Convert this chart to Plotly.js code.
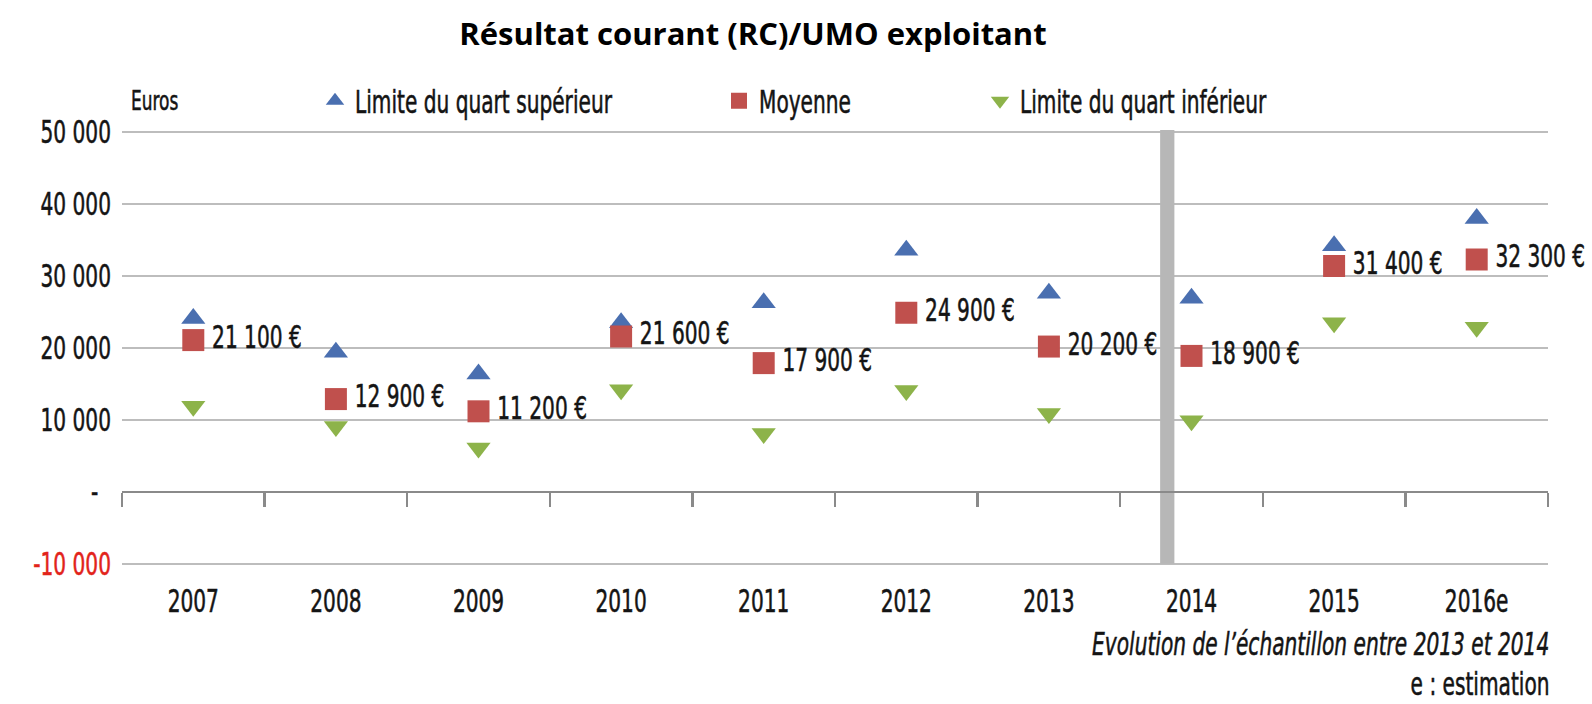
<!DOCTYPE html>
<html>
<head>
<meta charset="utf-8">
<script src="https://cdn.plot.ly/plotly-3.0.1.min.js"></script>
<style>
  html, body { margin: 0; padding: 0; background: #ffffff; }
  #chart { width: 1592px; height: 704px; }
</style>
</head>
<body>
<div id="chart"></div>
<script>
// ---- data ----
const years = ['2007', '2008', '2009', '2010', '2011', '2012', '2013', '2014', '2015', '2016e'];
const upperQuartile = [24100, 19400, 16400, 23500, 26300, 33600, 27600, 26900, 34200, 38000];
const average = [21100, 12900, 11200, 21600, 17900, 24900, 20200, 18900, 31400, 32300];
const lowerQuartile = [11900, 9100, 6100, 14200, 8100, 14100, 10900, 9900, 23500, 22900];
const yTickValues = [-10000, 0, 10000, 20000, 30000, 40000, 50000];
const yTickLabels = ['<span style="color:#e2231a">-10 000</span>', '-\u00a0\u00a0', '10 000', '20 000', '30 000', '40 000', '50 000'];
const seriesNames = ['Limite du quart supérieur', 'Moyenne', 'Limite du quart inférieur'];

const FONT = '"DejaVu Sans Condensed", "Liberation Sans Narrow", sans-serif';
const FS = 32;          // font size before horizontal condensing
const CONDENSE = 0.70;  // horizontal squeeze to mimic the condensed typeface
const STROKE = 0.55;    // slight outline to give a medium weight
const C_UP = '#4a6fb0', C_AVG = '#c0504d', C_LOW = '#8db34a';
const TXT = '#141414';
const yRange = [-10300, 50300];
const zeroPos = (0 - yRange[0]) / (yRange[1] - yRange[0]);

// plot area in pixels (for paper-referenced annotations)
const M = { l: 122, r: 44, t: 130, b: 138 };
const plotW = 1592 - M.l - M.r, plotH = 704 - M.t - M.b;
const px2paperX = px => (px - M.l) / plotW;
const px2paperY = py => (704 - M.b - py) / plotH;

const baseFont = { family: FONT, size: FS, color: TXT };

const traces = [
  {
    type: 'scatter', mode: 'markers', name: seriesNames[0], legend: 'legend',
    x: years, y: upperQuartile, xaxis: 'x', yaxis: 'y',
    marker: { symbol: 'triangle-up', size: 21, color: C_UP },
    hoverinfo: 'x+y'
  },
  {
    type: 'scatter', mode: 'markers+text', name: seriesNames[1], legend: 'legend2',
    x: years, y: average, xaxis: 'x', yaxis: 'y', cliponaxis: false,
    marker: { symbol: 'square', size: 22, color: C_AVG },
    texttemplate: '\u2009%{y:,.0f} €', textposition: 'middle right',
    textfont: baseFont,
    hoverinfo: 'x+y'
  },
  {
    type: 'scatter', mode: 'markers', name: seriesNames[2], legend: 'legend3',
    x: years, y: lowerQuartile, xaxis: 'x2', yaxis: 'y',
    marker: { symbol: 'triangle-down', size: 21, color: C_LOW },
    hoverinfo: 'x+y'
  }
];

const legendCommon = {
  orientation: 'h', xref: 'container', yref: 'container', yanchor: 'middle', xanchor: 'left',
  y: 1 - 101 / 704, bgcolor: 'rgba(0,0,0,0)', borderwidth: 0,
  font: baseFont
};

const layout = {
  width: 1592, height: 704,
  paper_bgcolor: '#ffffff', plot_bgcolor: '#ffffff',
  separators: ', ',
  margin: M,
  font: { family: FONT, color: TXT },
  title: {
    text: '<b>Résultat courant (RC)/UMO exploitant</b>',
    font: { family: '"Open Sans", Lato, sans-serif', size: 31, color: '#000000' },
    x: 753 / 1592, xanchor: 'center', xref: 'container',
    y: 1 - 34 / 704, yanchor: 'middle', yref: 'container'
  },
  showlegend: true,
  legend: Object.assign({}, legendCommon, { x: 315 / 1592 }),
  legend2: Object.assign({}, legendCommon, { x: 719 / 1592 }),
  legend3: Object.assign({}, legendCommon, { x: 980 / 1592 }),
  xaxis: {
    type: 'category', categoryorder: 'array', categoryarray: years,
    range: [-0.5, 9.5], showline: false, showgrid: false, zeroline: false,
    ticks: '', ticklabelstandoff: 13,
    tickfont: baseFont
  },
  xaxis2: {
    type: 'category', categoryorder: 'array', categoryarray: years,
    overlaying: 'x', anchor: 'free', position: zeroPos, side: 'bottom',
    range: [-0.5, 9.5], showline: true, linecolor: '#8a8a8a', linewidth: 2.5,
    ticks: 'outside', tickson: 'boundaries', ticklen: 14, tickwidth: 2.5, tickcolor: '#8a8a8a',
    showticklabels: false, showgrid: false, zeroline: false
  },
  yaxis: {
    range: yRange, tickvals: yTickValues, ticktext: yTickLabels,
    showgrid: true, gridcolor: '#bdbdbd', gridwidth: 1.5,
    zeroline: false, showline: false, ticks: '', ticklabelstandoff: 10,
    tickfont: baseFont
  },
  shapes: [
    {
      type: 'rect', xref: 'x', yref: 'y', layer: 'between',
      x0: 6.78, x1: 6.88, y0: -10000, y1: 50300,
      fillcolor: '#b7b7b7', line: { width: 0 }
    }
  ],
  annotations: [
    {
      text: 'Euros', xref: 'paper', yref: 'paper',
      x: px2paperX(129), y: px2paperY(100),
      xanchor: 'left', yanchor: 'middle', showarrow: false,
      font: { family: FONT, size: 27, color: TXT }
    },
    {
      text: '<i>Evolution de l’échantillon entre 2013 et 2014</i>',
      xref: 'paper', yref: 'paper', x: px2paperX(1551), y: px2paperY(644),
      xanchor: 'right', yanchor: 'middle', showarrow: false,
      font: baseFont
    },
    {
      text: 'e : estimation',
      xref: 'paper', yref: 'paper', x: px2paperX(1551), y: px2paperY(704),
      xanchor: 'right', yanchor: 'bottom', showarrow: false, borderpad: 0,
      font: baseFont
    }
  ]
};
const annAnchors = ['start', 'end', 'end'];

// squeeze every text horizontally about its anchor point (title excepted)
function condense(gd) {
  gd.querySelectorAll('text').forEach(t => {
    if (t.classList.contains('gtitle') || t.getAttribute('data-condensed')) return;
    let bb;
    try { bb = t.getBBox(); } catch (e) { return; }
    if (!bb || !bb.width) return;
    let anchor = t.getAttribute('text-anchor') || 'start';
    const ann = t.closest('.annotation');
    if (ann) anchor = annAnchors[+ann.getAttribute('data-index')] || anchor;
    const ax = anchor === 'end' ? bb.x + bb.width : anchor === 'middle' ? bb.x + bb.width / 2 : bb.x;
    const old = t.getAttribute('transform') || '';
    t.setAttribute('transform', old + ' translate(' + ax + ',0) scale(' + CONDENSE + ',1) translate(' + (-ax) + ',0)');
    t.setAttribute('data-condensed', '1');
    const fill = t.style.fill || TXT;
    t.style.stroke = fill;
    t.style.strokeWidth = STROKE + 'px';
    t.querySelectorAll('tspan').forEach(ts => {
      if (ts.style.fill) ts.style.stroke = ts.style.fill;
    });
  });
}

Plotly.newPlot('chart', traces, layout, { displayModeBar: false, staticPlot: true })
  .then(gd => condense(gd));
</script>
</body>
</html>
